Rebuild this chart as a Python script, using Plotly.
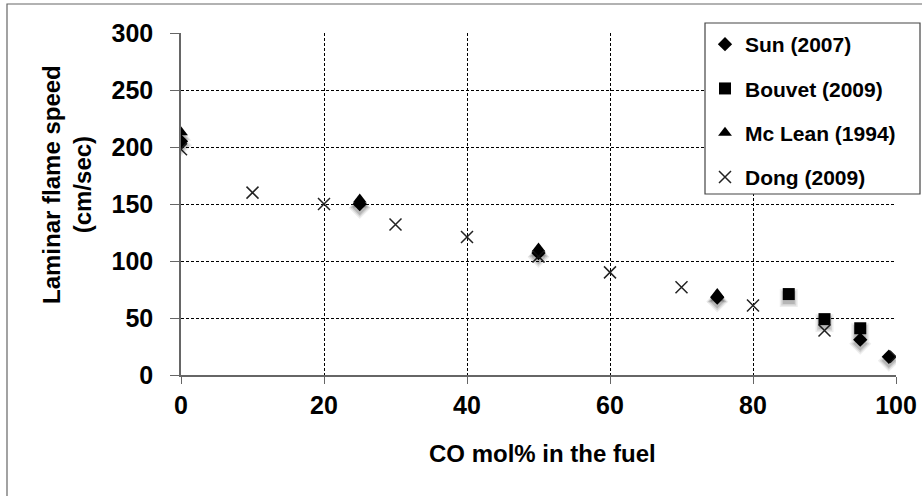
import plotly.graph_objects as go

# ---- data ----
sun_x = [0, 25, 50, 75, 95, 99]
sun_y = [205, 150, 107, 68, 31, 16]

bouvet_x = [85, 90, 95]
bouvet_y = [71, 49, 41]

mclean_x = [0, 25, 50, 75]
mclean_y = [213, 154, 111, 71]

dong_x = [0, 10, 20, 30, 40, 50, 60, 70, 80, 90, 100]
dong_y = [198, 160, 150, 132, 121, 104, 90, 77, 61, 39, 16]

x_ticks = [0, 20, 40, 60, 80, 100]
y_ticks = [0, 50, 100, 150, 200, 250, 300]

FONT = "Liberation Sans, Arial, sans-serif"

fig = go.Figure()

# soft drop shadows (drawn on a slightly shifted overlay axis)
for xs, ys, sym, sz in [(sun_x, sun_y, "diamond", 11),
                        (bouvet_x, bouvet_y, "square", 12),
                        (mclean_x, mclean_y, "triangle-up", 12)]:
    for extra, alpha in [(6, 0.07), (3, 0.10), (0, 0.14)]:
        fig.add_trace(go.Scatter(x=xs, y=ys, mode="markers", yaxis="y2",
                                 showlegend=False, hoverinfo="skip",
                                 marker=dict(symbol=sym, size=sz + extra,
                                             color="rgba(0,0,0,%.2f)" % alpha,
                                             line=dict(width=0))))

fig.add_trace(go.Scatter(x=sun_x, y=sun_y, mode="markers", name="Sun (2007)",
                         legendgroup="a",
                         marker=dict(symbol="diamond", size=11, color="black")))
fig.add_trace(go.Scatter(x=bouvet_x, y=bouvet_y, mode="markers", name="Bouvet (2009)",
                         legendgroup="b",
                         marker=dict(symbol="square", size=12, color="black")))
fig.add_trace(go.Scatter(x=mclean_x, y=mclean_y, mode="markers", name="Mc Lean (1994)",
                         legendgroup="c",
                         marker=dict(symbol="triangle-up", size=12, color="black")))
fig.add_trace(go.Scatter(x=dong_x, y=dong_y, mode="markers", name="Dong (2009)",
                         legendgroup="d",
                         marker=dict(symbol="x-thin", size=12, color="#222",
                                     line=dict(width=1.5, color="#222"))))

fig.update_layout(
    width=922, height=496,
    margin=dict(l=181, r=26, t=33, b=121, autoexpand=False),
    paper_bgcolor="white", plot_bgcolor="white",
    font=dict(family=FONT, color="black"),
    xaxis=dict(range=[0, 100], tickvals=x_ticks, showgrid=True,
               gridcolor="black", griddash="3px,2px", gridwidth=1,
               showline=True, linecolor="#666", linewidth=1.5,
               ticks="outside", ticklen=7, tickcolor="#666",
               tickfont=dict(size=25, family=FONT, weight="bold"),
               zeroline=False, fixedrange=True, automargin=False),
    yaxis=dict(range=[0, 300], tickvals=y_ticks, showgrid=True,
               gridcolor="black", griddash="3px,2px", gridwidth=1,
               showline=True, linecolor="#666", linewidth=1.5,
               ticks="outside", ticklen=9, tickcolor="#666",
               ticklabelstandoff=12,
               tickfont=dict(size=25, family=FONT, weight="bold"),
               zeroline=False, fixedrange=True, automargin=False),
    yaxis2=dict(range=[3.5, 303.5], overlaying="y", visible=False,
                fixedrange=True),
    showlegend=True,
    legend=dict(x=(705 - 181) / 715, y=(375 - 24) / 342,
                xanchor="left", yanchor="top",
                bgcolor="rgba(0,0,0,0)", borderwidth=0,
                tracegroupgap=14, itemsizing="trace",
                font=dict(size=21, family=FONT, weight="bold")),
    shapes=[
        # legend box
        dict(type="rect", xref="paper", yref="paper",
             x0=(705 - 181) / 715, x1=(920 - 181) / 715,
             y0=(375 - 194) / 342, y1=(375 - 23) / 342,
             line=dict(color="#444", width=1.2), fillcolor="white", layer="above"),
        # outer chart border
        dict(type="rect", xref="paper", yref="paper",
             x0=(7 - 181) / 715, x1=1.2, y0=-0.5, y1=(375 - 4) / 342,
             line=dict(color="#666", width=1.2), layer="below"),
    ],
    annotations=[
        dict(text="Laminar flame speed<br>(cm/sec)", xref="paper", yref="paper",
             x=(67 - 181) / 715, y=(375 - 185) / 342, xanchor="center",
             yanchor="middle", textangle=-90, showarrow=False,
             font=dict(size=24, family=FONT, weight="bold")),
        dict(text="CO mol% in the fuel", xref="paper", yref="paper",
             x=(542 - 181) / 715, y=(375 - 453) / 342, xanchor="center",
             yanchor="middle", showarrow=False,
             font=dict(size=24, family=FONT, weight="bold")),
    ],
)

fig.write_html("out.html")
